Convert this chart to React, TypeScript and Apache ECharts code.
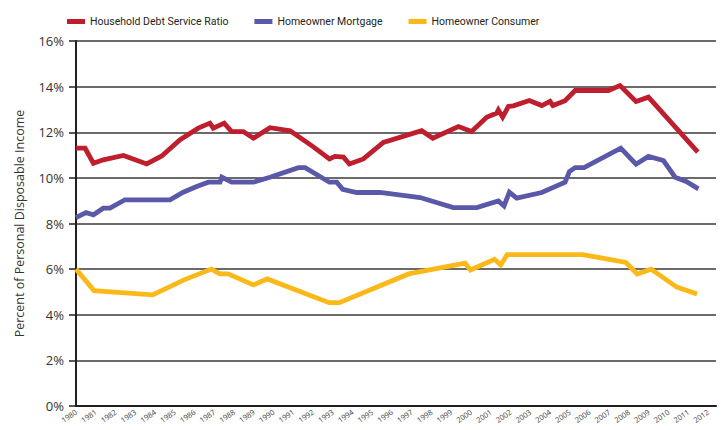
import React, { useEffect, useRef } from "react";
import * as echarts from "echarts";

const seriesNames = ["Household Debt Service Ratio", "Homeowner Mortgage", "Homeowner Consumer"];

const debtService: [number, number][] = [
  [1980, 11.3], [1980.46, 11.3], [1980.88, 10.64], [1981.38, 10.79], [1982.4, 10.98],
  [1983.58, 10.61], [1984.34, 10.96], [1985.27, 11.67], [1986.19, 12.18], [1986.78, 12.4],
  [1986.95, 12.18], [1987.5, 12.4], [1987.88, 12.03], [1988.47, 12.03], [1988.98, 11.74],
  [1989.82, 12.2], [1990.84, 12.06], [1992.0, 11.37], [1992.83, 10.83], [1993.11, 10.94],
  [1993.54, 10.91], [1993.84, 10.61], [1994.55, 10.83], [1995.56, 11.55], [1997.5, 12.07],
  [1998.06, 11.74], [1999.36, 12.25], [2000.03, 12.03], [2000.79, 12.66], [2001.3, 12.84],
  [2001.38, 12.98], [2001.6, 12.66], [2001.89, 13.13], [2002.14, 13.16], [2002.95, 13.39],
  [2003.58, 13.17], [2004.0, 13.35], [2004.14, 13.17], [2004.76, 13.38], [2005.27, 13.83],
  [2006.95, 13.83], [2007.54, 14.05], [2008.35, 13.35], [2008.98, 13.54], [2011.48, 11.13],
];

const mortgage: [number, number][] = [
  [1980, 8.26], [1980.5, 8.48], [1980.88, 8.38], [1981.38, 8.67], [1981.72, 8.67],
  [1982.48, 9.04], [1984.76, 9.04], [1985.43, 9.37], [1986.11, 9.62], [1986.7, 9.81],
  [1987.29, 9.81], [1987.38, 10.03], [1987.88, 9.81], [1988.98, 9.81], [1989.82, 10.03],
  [1991.26, 10.45], [1991.6, 10.45], [1992.83, 9.81], [1993.2, 9.81], [1993.5, 9.5],
  [1994.21, 9.36], [1995.39, 9.36], [1997.42, 9.14], [1999.1, 8.7], [2000.29, 8.7],
  [2001.38, 8.99], [2001.67, 8.77], [2001.94, 9.37], [2002.31, 9.11], [2003.58, 9.36],
  [2004.76, 9.81], [2004.98, 10.28], [2005.27, 10.45], [2005.72, 10.45], [2007.58, 11.3],
  [2008.35, 10.6], [2008.98, 10.94], [2009.74, 10.76], [2010.33, 10.03], [2010.89, 9.84],
  [2011.51, 9.52],
];

const consumer: [number, number][] = [
  [1980, 6.0], [1980.91, 5.06], [1983.88, 4.87], [1985.47, 5.53], [1986.86, 6.0],
  [1987.28, 5.79], [1987.7, 5.79], [1988.98, 5.31], [1989.68, 5.57], [1992.81, 4.53],
  [1993.33, 4.53], [1996.84, 5.79], [1999.7, 6.26], [1999.97, 5.96], [2001.19, 6.43],
  [2001.5, 6.18], [2001.83, 6.64], [2005.65, 6.64], [2007.84, 6.29], [2008.41, 5.79],
  [2009.11, 6.0], [2010.42, 5.21], [2011.44, 4.91],
];

const colors = ["#BE1E2D", "#5A59A9", "#FAB918"];
const yTicks = [0, 2, 4, 6, 8, 10, 12, 14, 16];

export default function App() {
  const ref = useRef<HTMLDivElement>(null);
  useEffect(() => {
    if (!ref.current) return;
    const chart = echarts.init(ref.current, undefined, { renderer: "svg" });
    const font = "'Open Sans', sans-serif";
    chart.setOption({
      animation: false,
      backgroundColor: "#ffffff",
      color: colors,
      textStyle: { fontFamily: font },
      legend: {
        top: 11,
        left: 62,
        itemWidth: 18,
        itemHeight: 5,
        itemGap: 26,
        icon: "rect",
        textStyle: { fontSize: 10.5, color: "#231F20", fontFamily: "Roboto, sans-serif" },
        data: seriesNames,
      },
      grid: { left: 76, right: 10, top: 41, bottom: 24, containLabel: false },
      xAxis: {
        type: "value",
        min: 1980,
        max: 2012.4,
        interval: 1,
        splitLine: { show: false },
        axisTick: { show: false },
        axisLine: { show: true, lineStyle: { color: "#231F20", width: 2 } },
        axisLabel: {
          rotate: 35,
          fontSize: 7.5,
          color: "#444",
          margin: 5,
          showMaxLabel: false,
          formatter: (v: number) => (Number.isInteger(v) ? String(v) : ""),
        },
      },
      yAxis: {
        type: "value",
        min: yTicks[0],
        max: yTicks[yTicks.length - 1],
        interval: 2,
        name: "Percent of Personal Disposable Income",
        nameLocation: "middle",
        nameGap: 50,
        nameTextStyle: { fontSize: 12.5, color: "#333", fontFamily: font },
        axisLine: { show: true, lineStyle: { color: "#231F20", width: 2 } },
        axisTick: { show: true, length: 7, lineStyle: { color: "#231F20", width: 1.5 } },
        axisLabel: {
          fontSize: 13,
          color: "#333",
          margin: 12,
          formatter: (v: number) => v + "%",
        },
        splitLine: { show: true, lineStyle: { color: "#3a3a3a", width: 1.5 } },
      },
      series: [
        { name: seriesNames[0], data: debtService },
        { name: seriesNames[1], data: mortgage },
        { name: seriesNames[2], data: consumer },
      ].map((s, i) => ({
        type: "line",
        name: s.name,
        data: s.data,
        showSymbol: false,
        symbol: "none",
        z: 3 - i,
        lineStyle: { width: 4.8, color: colors[i], join: "miter" },
        itemStyle: { color: colors[i] },
      })),
    });
    return () => chart.dispose();
  }, []);
  return (
    <div
      ref={ref}
      style={{ position: "fixed", left: 0, top: 0, width: 726, height: 430 }}
    />
  );
}
